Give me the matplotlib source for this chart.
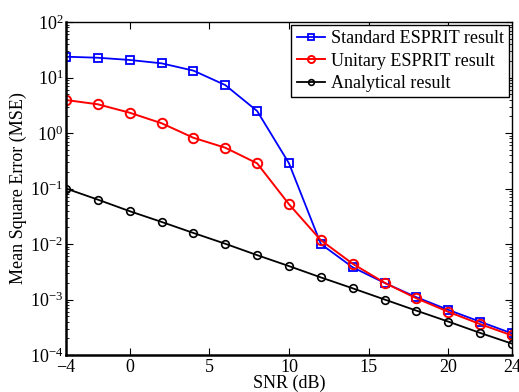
import matplotlib.pyplot as plt
import numpy as np

plt.rcParams['font.family'] = ['Liberation Serif', 'DejaVu Serif']
plt.rcParams['mathtext.fontset'] = 'stix'

# SNR points
snr = [-4, -2, 0, 2, 4, 6, 8, 10, 12, 14, 16, 18, 20, 22, 24]

# MSE values
mse_standard = [23.7, 22.7, 20.7, 18.0, 13.3, 7.3, 2.49, 0.284, 0.0100,
                0.0038, 0.00199, 0.0011, 0.00065, 0.000398, 0.000245]
mse_unitary = [3.93, 3.29, 2.32, 1.50, 0.82, 0.543, 0.284, 0.052, 0.0117,
               0.0044, 0.0020, 0.00105, 0.00060, 0.00036, 0.000225]
mse_analytical = [0.1, 0.063, 0.039, 0.025, 0.0158, 0.0101, 0.0063, 0.0040,
                  0.0025, 0.00159, 0.0010, 0.00063, 0.00040, 0.00025, 0.00016]

fig = plt.figure(figsize=(5.19, 3.92), dpi=100)
ax = fig.add_axes([66/519, 1-355/392, (512-66)/519, (355-22)/392])

ax.semilogy(snr, mse_standard, 'b-s', lw=1.3, ms=5.5, mfc='none', mew=1.3,
            label='Standard ESPRIT result')
ax.semilogy(snr, mse_unitary, 'r-o', lw=1.4, ms=6.8, mfc='none', mew=1.4,
            label='Unitary ESPRIT result')
ax.semilogy(snr, mse_analytical, 'k-o', lw=1.3, ms=5.5, mfc='none', mew=1.2,
            label='Analytical result')

ax.set_xlim(-4, 24)
ax.set_ylim(1e-4, 1e2)
ax.set_xticks([-4, 0, 5, 10, 15, 20, 24])
ax.set_xticklabels(['\u22124', '0', '5', '10', '15', '20', '24'])
ax.tick_params(which='both', direction='in', top=True, right=True, labelsize=13)
ax.tick_params(which='major', length=5)
ax.tick_params(which='minor', length=2.5)
ax.tick_params(axis='x', pad=3)
ax.tick_params(axis='y', pad=2)
for s in ax.spines.values():
    s.set_linewidth(1.0)
ax.spines['bottom'].set_linewidth(1.8)
ax.spines['left'].set_linewidth(1.8)

ax.set_xlabel('SNR (dB)', fontsize=13, labelpad=-1)
ax.set_ylabel('Mean Square Error (MSE)', fontsize=13, labelpad=2)

leg = ax.legend(loc='upper right', fontsize=13, fancybox=False, edgecolor='k',
                framealpha=1, handlelength=1.6, handletextpad=0.3,
                borderpad=0.3, labelspacing=0.3, markerscale=0.75,
                borderaxespad=0.15)
leg.get_frame().set_linewidth(1.0)

fig.savefig('out.png', dpi=100)
